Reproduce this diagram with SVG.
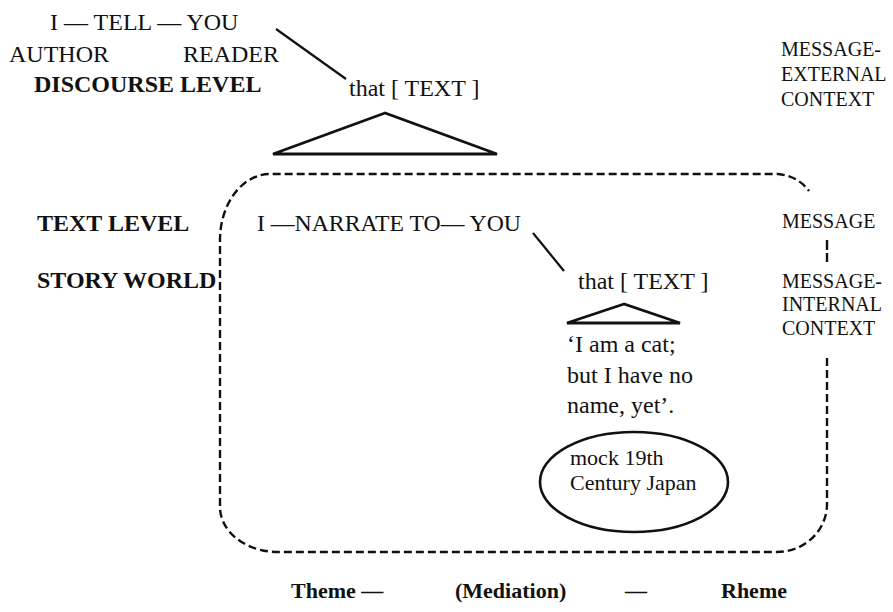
<svg xmlns="http://www.w3.org/2000/svg" width="893" height="612" viewBox="0 0 893 612">
<style>
text{font-family:"Liberation Serif","Times New Roman",serif;fill:#111;font-size:24px}
.b{font-weight:bold}
.s{font-size:20px}
.e{font-size:22px}
.ln{stroke:#111;stroke-width:2.2;fill:none}
.tri{stroke:#111;stroke-width:2.8;fill:none;stroke-linejoin:miter}
.dash{stroke:#111;stroke-width:2.4;fill:none;stroke-dasharray:8 4}
</style>
<rect width="893" height="612" fill="#fff"/>
<g id="discourse">
<text x="50" y="30">I — TELL — YOU</text>
<text x="9" y="62">AUTHOR</text>
<text x="183" y="62">READER</text>
<text class="b" x="34" y="92">DISCOURSE LEVEL</text>
</g>
<g id="outer-text">
<text x="349" y="96">that [ TEXT ]</text>
<polygon class="tri" points="385,113 273,154 497,154"/>
</g>
<g id="external-context">
<text class="s" x="781" y="56">MESSAGE-</text>
<text class="s" x="781" y="81">EXTERNAL</text>
<text class="s" x="781" y="106">CONTEXT</text>
</g>
<g id="levels">
<text class="b" x="37" y="231">TEXT LEVEL</text>
<text class="b" x="37" y="288">STORY WORLD</text>
</g>
<g id="narration">
<text x="257" y="231" textLength="264" lengthAdjust="spacingAndGlyphs">I —NARRATE TO— YOU</text>
</g>
<g id="message">
<text class="s" x="782" y="228">MESSAGE</text>
</g>
<g id="internal-context">
<text class="s" x="782" y="288">MESSAGE-</text>
<text class="s" x="782" y="311">INTERNAL</text>
<text class="s" x="782" y="335">CONTEXT</text>
</g>
<g id="inner-text">
<text x="578" y="289">that [ TEXT ]</text>
<polygon class="tri" points="624,304 567,323 680,323"/>
<text x="567" y="352">‘I am a cat;</text>
<text x="567" y="383">but I have no</text>
<text x="567" y="413">name, yet’.</text>
</g>
<g id="setting">
<ellipse class="ln" cx="634" cy="482" rx="94" ry="50" style="stroke-width:2.6"/>
<text class="e" x="570" y="465">mock 19th</text>
<text class="e" x="570" y="490">Century Japan</text>
</g>
<g id="theme-rheme">
<text class="b" x="291" y="598" style="font-size:22px">Theme —</text>
<text class="b" x="455" y="598" style="font-size:22px">(Mediation)</text>
<text class="b" x="625" y="598" style="font-size:22px">—</text>
<text class="b" x="721" y="598" style="font-size:22px">Rheme</text>
</g>
<g id="connectors">
<line class="ln" x1="533" y1="233" x2="564" y2="271"/>
<line class="ln" x1="276" y1="29" x2="346" y2="79"/>
<line class="dash" x1="827" y1="240" x2="827" y2="262" style="stroke-dasharray:10 3"/>
<path class="dash" d="M 827 358 L 827 504 A 50 48 0 0 1 777 552 L 278 552 A 58 45 0 0 1 220 507 L 220 240 A 50 66 0 0 1 270 174 L 778 174 Q 798 176 809 191"/>
</g>
</svg>
